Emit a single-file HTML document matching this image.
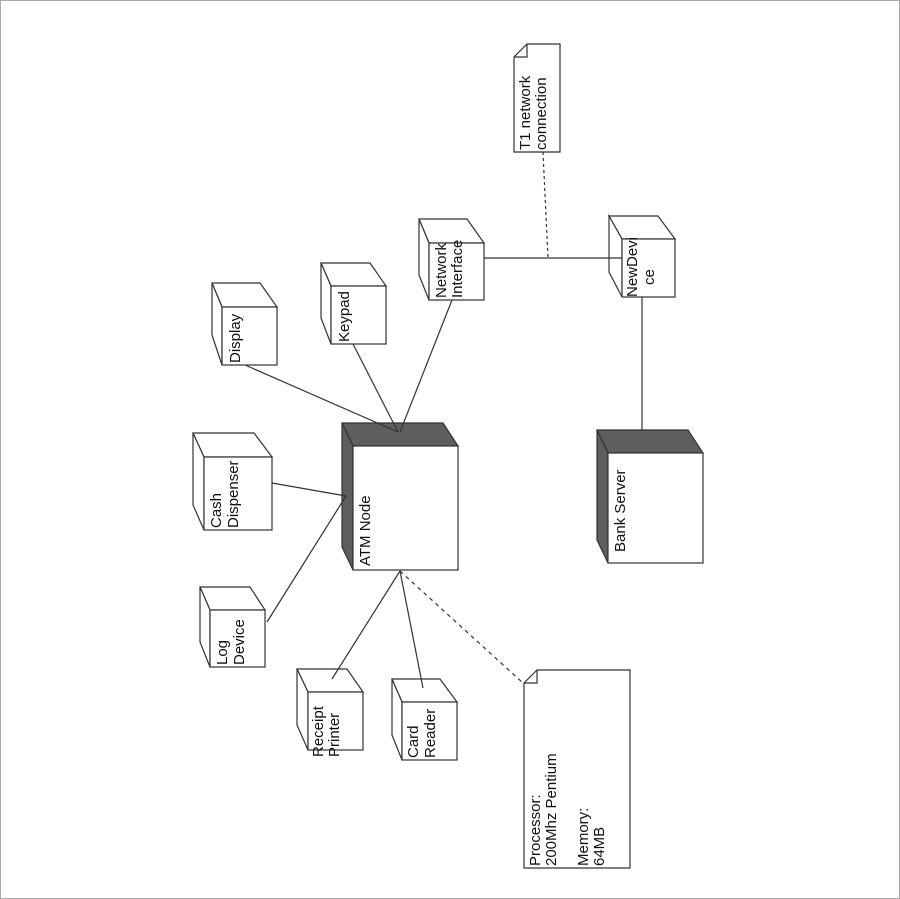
<!DOCTYPE html>
<html><head><meta charset="utf-8"><style>
html,body{margin:0;padding:0;background:#fff;}
svg{display:block;}
text{font-family:"Liberation Sans",Arial,sans-serif;font-size:15px;fill:#111;}
</style></head><body>
<svg width="900" height="899" viewBox="0 0 900 899" xmlns="http://www.w3.org/2000/svg">
<rect x="0.5" y="0.5" width="899" height="898" fill="#fff" stroke="#aaa"/>
<g stroke="#333" stroke-width="1.2" fill="#fff">
<polygon points="212,283 260,283 277,307 222,307"/><polygon points="212,283 222,307 222,365 212,335"/><rect x="222" y="307" width="55" height="58"/>
<polygon points="321,263 370,263 386,286 331,286"/><polygon points="321,263 331,286 331,344 321,318"/><rect x="331" y="286" width="55" height="58"/>
<polygon points="419,219 467,219 484,243 429,243"/><polygon points="419,219 429,243 429,300 419,275"/><rect x="429" y="243" width="55" height="57"/>
<polygon points="193,433 254,433 272,457 204,457"/><polygon points="193,433 204,457 204,530 193,505"/><rect x="204" y="457" width="68" height="73"/>
<polygon points="200,587 250,587 265,610 210,610"/><polygon points="200,587 210,610 210,667 200,642"/><rect x="210" y="610" width="55" height="57"/>
<polygon points="297,669 347,669 363,692 308,692"/><polygon points="297,669 308,692 308,750 297,725"/><rect x="308" y="692" width="55" height="58"/>
<polygon points="392,679 440,679 457,702 402,702"/><polygon points="392,679 402,702 402,760 392,735"/><rect x="402" y="702" width="55" height="58"/>
<polygon points="609,216 658,216 675,239 622,239"/><polygon points="609,216 622,239 622,297 609,272"/><rect x="622" y="239" width="53" height="58"/>
<polygon points="342,423 443,423 458,446 353,446" fill="#5e5e5e"/><polygon points="342,423 353,446 353,570 342,547" fill="#5e5e5e"/><rect x="353" y="446" width="105" height="124"/>
<polygon points="597,430 688,430 703,453 608,453" fill="#5e5e5e"/><polygon points="597,430 608,453 608,563 597,540" fill="#5e5e5e"/><rect x="608" y="453" width="95" height="110"/>
<polygon points="527,44 560,44 560,152 514,152 514,57"/><polyline points="514,57 527,57 527,44" fill="none"/>
<polygon points="537,670 630,670 630,868 524,868 524,683"/><polyline points="524,683 537,683 537,670" fill="none"/>
</g>
<g stroke="#333" stroke-width="1.2" fill="none">
<line x1="245" y1="365" x2="398" y2="432"/>
<line x1="353" y1="344" x2="398" y2="432"/>
<line x1="452" y1="300" x2="400" y2="432"/>
<line x1="272" y1="483" x2="346" y2="496"/>
<line x1="267" y1="622" x2="346" y2="496"/>
<line x1="332" y1="679" x2="400" y2="571"/>
<line x1="423" y1="688" x2="400" y2="571"/>
<line x1="484" y1="258" x2="622" y2="258"/>
<line x1="642" y1="297" x2="642" y2="430"/>
<line x1="400" y1="571" x2="523" y2="683" stroke-dasharray="4,4"/>
<line x1="543" y1="152" x2="548" y2="258" stroke-dasharray="3,3"/>
</g>
<g>
<text transform="translate(240,363) rotate(-90)">Display</text>
<text transform="translate(349,342) rotate(-90)">Keypad</text>
<text transform="translate(446,298) rotate(-90)">Network<tspan x="0" dy="16">Interface</tspan></text>
<text transform="translate(221,528) rotate(-90)">Cash<tspan x="0" dy="17">Dispenser</tspan></text>
<text transform="translate(227,665) rotate(-90)">Log<tspan x="0" dy="17">Device</tspan></text>
<text transform="translate(323,757) rotate(-90)">Receipt<tspan x="0" dy="16">Printer</tspan></text>
<text transform="translate(418,758) rotate(-90)">Card<tspan x="0" dy="17">Reader</tspan></text>
<text transform="translate(637,297) rotate(-90)">NewDevi<tspan x="12" dy="17">ce</tspan></text>
<text transform="translate(370,566) rotate(-90)">ATM Node</text>
<text transform="translate(625,552) rotate(-90)">Bank Server</text>
<text transform="translate(530,150) rotate(-90)">T1 network<tspan x="0" dy="16">connection</tspan></text>
<text transform="translate(540,866) rotate(-90)">Processor:<tspan x="0" dy="16">200Mhz Pentium</tspan><tspan x="0" dy="32">Memory:</tspan><tspan x="0" dy="16">64MB</tspan></text>
</g>
</svg>
</body></html>
